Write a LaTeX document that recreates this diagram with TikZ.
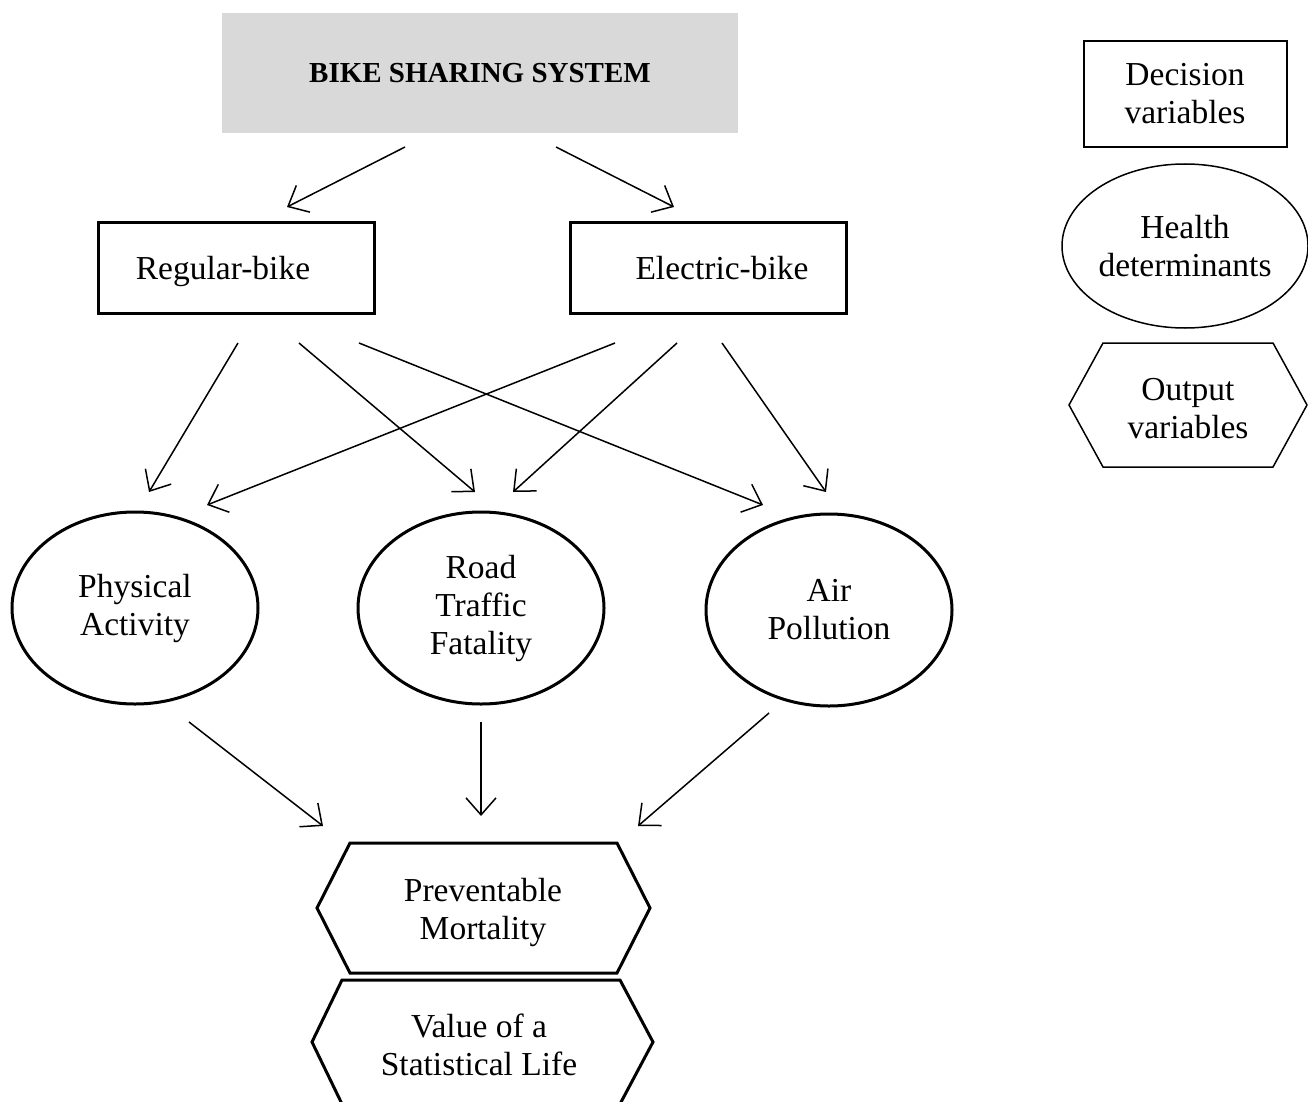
\documentclass[tikz,border=0pt]{standalone}
\usepackage{fontspec}
\setmainfont{Liberation Serif}
\usetikzlibrary{arrows.meta,shapes.geometric}
\begin{document}
\begin{tikzpicture}[x=1pt,y=-1pt,
  txt/.style={font=\fontsize{33.5}{38}\selectfont, align=center, inner sep=0pt},
  decbox/.style={txt, draw, line width=3pt, minimum width=276pt, minimum height=91pt, text height=27pt, text depth=4pt},
  hlth/.style={txt, ellipse, draw, line width=3pt, minimum width=246pt, minimum height=192pt},
  hexa/.style={line width=3pt, line join=miter},
  arr/.style={line width=1.5pt, -{Straight Barb[length=17pt,width=30pt,line width=1.5pt]}}]
\useasboundingbox (0,0) rectangle (1308,1102);

% title
\node[txt, fill={rgb,255:red,217;green,217;blue,217}, minimum width=516pt, minimum height=120pt,
  font=\fontsize{29}{34}\selectfont\bfseries] (bss) at (480,73) {BIKE SHARING SYSTEM};

% decision variables
\node[decbox] (reg) at (236,268) {\makebox[0pt][c]{\hspace*{-26pt}Regular-bike}};
\node[decbox] (ele) at (708,268) {\makebox[0pt][c]{\hspace*{28pt}Electric-bike}};

% health determinants
\node[hlth] (pa) at (135,608) {Physical\\Activity};
\node[hlth] (rtf) at (481,608) {Road\\Traffic\\Fatality};
\node[hlth] (ap) at (829,610) {Air\\Pollution};

% outputs
\draw[hexa] (350,843) -- (617,843) -- (650,908) -- (617,973) -- (350,973) -- (317,908) -- cycle;
\node[txt] (pm) at (483,912) {Preventable\\Mortality};
\draw[hexa] (342,980) -- (620,980) -- (653,1042) -- (620,1104) -- (342,1104) -- (312,1042) -- cycle;
\node[txt] (vsl) at (479,1045) {Value of a\\Statistical Life};

% legend
\node[txt, draw, line width=2pt, minimum width=203pt, minimum height=106pt] (lg1) at (1185,94) {Decision\\variables};
\node[txt, ellipse, draw, line width=1.5pt, minimum width=246pt, minimum height=164pt] (lg2) at (1185,246) {Health\\determinants};
\draw[line width=1.5pt, line join=miter] (1103,343) -- (1273,343) -- (1307,405) -- (1273,467) -- (1103,467) -- (1069,405) -- cycle;
\node[txt] (lg3) at (1188,409) {Output\\variables};

% connector end points
\coordinate (a1s) at (405,147); \coordinate (a1e) at (287,207);
\coordinate (a2s) at (556,147); \coordinate (a2e) at (674,207);

\coordinate (r1s) at (238,343); \coordinate (r1e) at (149,492);
\coordinate (r2s) at (299,343); \coordinate (r2e) at (475,492);
\coordinate (r3s) at (359,343); \coordinate (r3e) at (763,505);
\coordinate (e1s) at (615,343); \coordinate (e1e) at (207,505);
\coordinate (e2s) at (677,343); \coordinate (e2e) at (513,492);
\coordinate (e3s) at (722,343); \coordinate (e3e) at (826,492);

\coordinate (p1s) at (189,722); \coordinate (p1e) at (323,826);
\coordinate (p2s) at (481,722); \coordinate (p2e) at (481,816);
\coordinate (p3s) at (769,713); \coordinate (p3e) at (638,826);

\foreach \s/\e in {a1s/a1e,a2s/a2e,r1s/r1e,r2s/r2e,r3s/r3e,e1s/e1e,e2s/e2e,e3s/e3e,p1s/p1e,p2s/p2e,p3s/p3e}
  \draw[arr] (\s) -- (\e);
\end{tikzpicture}
\end{document}
